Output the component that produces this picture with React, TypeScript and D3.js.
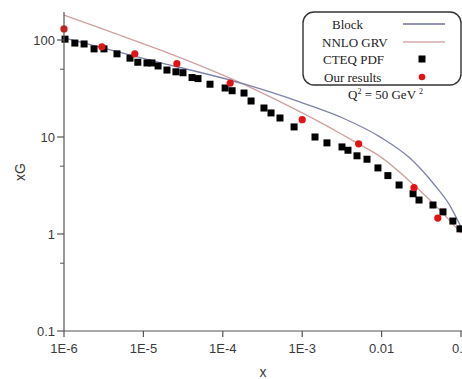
import React from "react";
import * as d3 from "d3";

// CTEQ PDF (black squares)
const cteqX = [1.03e-6, 1.37e-6, 1.79e-6, 2.39e-6, 3.19e-6, 4.65e-6, 6.78e-6, 8.5e-6, 1.11e-5, 1.28e-5, 1.53e-5, 1.98e-5, 2.57e-5, 3.15e-5, 4.1e-5, 4.87e-5, 6.9e-5, 1.07e-4, 1.31e-4, 1.85e-4, 2.27e-4, 3.3e-4, 4.05e-4, 5.25e-4, 7.9e-4, 1.45e-3, 2.05e-3, 3.17e-3, 3.77e-3, 4.9e-3, 6.55e-3, 9.0e-3, 1.2e-2, 1.66e-2, 2.49e-2, 2.96e-2, 4.44e-2, 5.93e-2, 7.9e-2, 9.7e-2];
const cteqY = [102, 93, 91, 81, 81, 72, 65, 59, 58, 58, 54, 49, 47, 46, 41, 40, 35, 32, 30, 28.4, 23.5, 19.9, 17.7, 15.7, 12.7, 10, 8.7, 7.9, 7.3, 6.4, 5.9, 4.8, 4.0, 3.2, 2.6, 2.24, 1.99, 1.69, 1.36, 1.13];

// Our results (red dots)
const oursX = [1e-6, 3.0e-6, 7.8e-6, 2.64e-5, 1.24e-4, 1e-3, 5.14e-3, 2.56e-2, 5.1e-2];
const oursY = [130, 85, 72, 57, 36, 15.1, 8.5, 3.0, 1.46];

// Block curve
const blockX = [1e-6, 1.21e-5, 1.89e-4, 9.3e-4, 3.24e-3, 1e-2, 2.25e-2, 4.65e-2, 7.16e-2, 0.1];
const blockY = [105, 62, 35, 23, 15.7, 9.8, 6.1, 3.2, 2.0, 1.18];

// NNLO GRV curve
const grvX = [1e-6, 3.8e-6, 1.62e-5, 2.19e-4, 1e-3, 2.95e-3, 5.0e-3, 9.44e-3, 2.45e-2, 5.13e-2, 0.1];
const grvY = [181, 122, 79, 32.7, 17.7, 11.0, 8.6, 6.35, 3.3, 1.85, 1.02];

const xTicks = [1e-6, 1e-5, 1e-4, 1e-3, 1e-2, 1e-1];
const xTickLabels = ["1E-6", "1E-5", "1E-4", "1E-3", "0.01", "0.1"];
const yTicks = [0.1, 1, 10, 100];
const yTickLabels = ["0.1", "1", "10", "100"];
const yMinorTicks = [0.5, 5, 50];

const legendLabels = ["Block", "NNLO GRV", "CTEQ PDF", "Our results"];

const W = 462;
const H = 379;

export default function App() {
  const x = d3.scaleLog().domain([1e-6, 0.1]).range([64, 461]);
  const y = d3.scaleLog().domain([0.1, 100]).range([331, 40]);
  const yTop = 12;

  const line = d3
    .line<[number, number]>()
    .x((d) => x(d[0]))
    .y((d) => y(d[1]))
    .curve(d3.curveMonotoneX);

  const blockPath = line(blockX.map((v, i) => [v, blockY[i]]) as [number, number][]) || "";
  const grvPath = line(grvX.map((v, i) => [v, grvY[i]]) as [number, number][]) || "";

  const axisColor = "#555";
  const textColor = "#3a3a3a";
  const blockColor = "#7d82a8";
  const grvColor = "#cfa0a0";
  const sans = "Liberation Sans, Arial, sans-serif";
  const serif = "Liberation Serif, Times New Roman, serif";

  const legendTextX = [332, 322, 323, 324];
  const legendY = [24, 42, 59, 77];

  return (
    <div style={{ position: "absolute", left: 0, top: 0 }}>
      <svg width={W} height={H} viewBox={`0 0 ${W} ${H}`} style={{ display: "block", background: "#fff" }}>
        <rect x={0} y={0} width={W} height={H} fill="#fff" />
        {/* curves */}
        <path d={grvPath} fill="none" stroke={grvColor} strokeWidth={1.3} />
        <path d={blockPath} fill="none" stroke={blockColor} strokeWidth={1.3} />

        {/* squares */}
        {cteqX.map((v, i) => (
          <rect key={"s" + i} x={x(v) - 3.5} y={y(cteqY[i]) - 3.5} width={7} height={7} fill="#000" />
        ))}
        {/* dots */}
        {oursX.map((v, i) => (
          <circle key={"c" + i} cx={x(v)} cy={y(oursY[i])} r={3.6} fill="#e01414" />
        ))}

        {/* axes */}
        <line x1={64} x2={64} y1={yTop} y2={331} stroke={axisColor} strokeWidth={1.2} />
        <line x1={64} x2={W} y1={331} y2={331} stroke={axisColor} strokeWidth={1.2} />
        {yTicks.map((t, i) => (
          <g key={"yt" + i}>
            <line x1={57} x2={64} y1={y(t)} y2={y(t)} stroke={axisColor} strokeWidth={1.2} />
            <text x={55} y={y(t)} dy="0.36em" textAnchor="end" fontFamily={sans} fontSize={13} fill={textColor}>
              {yTickLabels[i]}
            </text>
          </g>
        ))}
        {yMinorTicks.map((t, i) => (
          <line key={"ym" + i} x1={60} x2={64} y1={y(t)} y2={y(t)} stroke={axisColor} strokeWidth={1} />
        ))}
        {xTicks.map((t, i) => (
          <g key={"xt" + i}>
            <line x1={x(t)} x2={x(t)} y1={331} y2={337} stroke={axisColor} strokeWidth={1.2} />
            <text x={x(t)} y={353} textAnchor="middle" fontFamily={sans} fontSize={13} fill={textColor}>
              {xTickLabels[i]}
            </text>
          </g>
        ))}
        <text x={263} y={377} textAnchor="middle" fontFamily={sans} fontSize={14} fill={textColor}>
          x
        </text>
        <text
          transform="translate(25,172) rotate(-90)"
          textAnchor="middle"
          fontFamily={sans}
          fontSize={14}
          fill={textColor}
        >
          xG
        </text>

        {/* legend */}
        <rect x={303} y={12} width={158} height={73} rx={11} ry={11} fill="#fff" stroke="#333" strokeWidth={1.4} />
        {legendLabels.map((l, i) => (
          <text key={"lg" + i} x={legendTextX[i]} y={legendY[i] + 4.5} fontFamily={serif} fontSize={13} fill="#222">
            {l}
          </text>
        ))}
        <line x1={403} x2={445} y1={legendY[0]} y2={legendY[0]} stroke="#6f7399" strokeWidth={1.3} />
        <line x1={403} x2={445} y1={legendY[1]} y2={legendY[1]} stroke="#d8a8a8" strokeWidth={1.3} />
        <rect x={422 - 3.5} y={legendY[2] - 3.5} width={7} height={7} fill="#000" />
        <circle cx={422} cy={legendY[3]} r={3.3} fill="#e01414" />

        {/* annotation */}
        <text x={348} y={99} fontFamily={serif} fontSize={13} fill="#222">
          Q<tspan fontSize={8} dy={-5}>2</tspan>
          <tspan dy={5}>{"  = 50 GeV "}</tspan>
          <tspan fontSize={8} dy={-5}>2</tspan>
        </text>
      </svg>
    </div>
  );
}
